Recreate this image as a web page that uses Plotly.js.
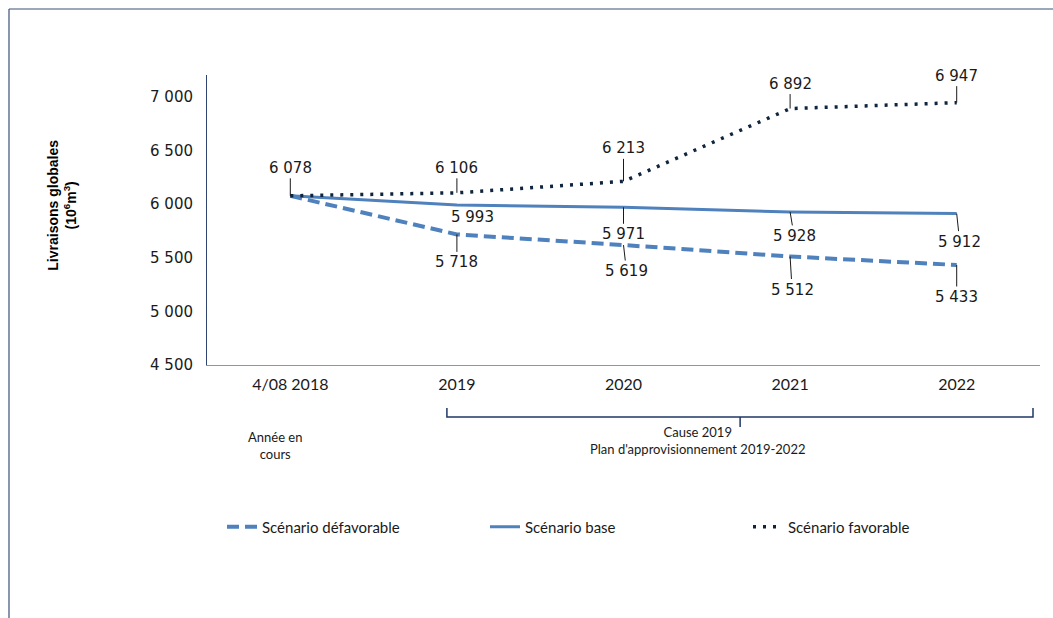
<!DOCTYPE html>
<html>
<head>
<meta charset="utf-8">
<script src="https://cdn.plot.ly/plotly-3.0.1.min.js"></script>
<style>html,body{margin:0;padding:0;background:#fff;}#chart{width:1053px;height:618px;}</style>
</head>
<body>
<div id="chart"></div>
<script>
// ---- Data ----
const categories = ['4/08 2018', '2019', '2020', '2021', '2022'];
const defavorable = [6078, 5718, 5619, 5512, 5433];
const base = [6078, 5993, 5971, 5928, 5912];
const favorable = [6078, 6106, 6213, 6892, 6947];
const seriesNames = ['Scénario défavorable', 'Scénario base', 'Scénario favorable'];
const yTickVals = [4500, 5000, 5500, 6000, 6500, 7000];
const yTitle = '<b>Livraisons globales<br>(10<sup>6</sup>m<sup>3</sup>)</b>';
const noteLeft = 'Année en<br>cours';
const noteRight = 'Cause 2019<br>Plan d\'approvisionnement 2019-2022';

// ---- Label offsets (style, px) ----
const offFav = [[0, -28], [0, -25], [0, -33], [0, -25], [0, -27]];
const offBase = [null, [16, 12], [0, 27], [4, 24], [3, 28]];
const offDef = [null, [0, 28], [3, 26], [2, 33], [0, 32]];

function fmt(v) { return String(v).replace(/\B(?=(\d{3})+(?!\d))/g, ' '); }

const blue = '#4f81bd';
const navy = '#0f243e';
const labelFont = { family: 'DejaVu Sans, Verdana, sans-serif', size: 15, color: '#1a1a1a' };

const traces = [
  { x: categories, y: defavorable, name: seriesNames[0], type: 'scatter', mode: 'lines',
    line: { color: blue, width: 4, dash: '12px,6px' } },
  { x: categories, y: base, name: seriesNames[1], type: 'scatter', mode: 'lines',
    line: { color: blue, width: 3 } },
  { x: categories, y: favorable, name: seriesNames[2], type: 'scatter', mode: 'lines',
    line: { color: navy, width: 3.5, dash: '3px,7px' } }
];

const annotations = [];
function addLabels(vals, offs) {
  vals.forEach((v, i) => {
    const o = offs[i];
    if (!o) return;
    const lead = Math.abs(o[1]) > 20;
    annotations.push({
      x: i, y: v, xref: 'x', yref: 'y', text: fmt(v),
      showarrow: lead, arrowhead: 0, arrowwidth: 1, arrowcolor: '#1a1a1a',
      ax: o[0], ay: o[1], standoff: 0,
      xshift: lead ? 0 : o[0], yshift: lead ? 0 : -o[1],
      font: labelFont
    });
  });
}
addLabels(favorable, offFav);
addLabels(base, offBase);
addLabels(defavorable, offDef);

annotations.push({
  xref: 'paper', yref: 'paper', x: -0.175, y: 0.55, text: yTitle, textangle: -90,
  showarrow: false, font: { family: 'Liberation Sans Narrow, Liberation Sans, Arial, sans-serif', size: 14, color: '#000' },
  xanchor: 'center', yanchor: 'middle'
});
annotations.push({
  xref: 'paper', yref: 'paper', x: 0.0816, y: -0.279, text: noteLeft, showarrow: false,
  font: { family: 'Lato, sans-serif', size: 13, color: '#1a1a1a' }, xanchor: 'center', yanchor: 'middle'
});
annotations.push({
  xref: 'paper', yref: 'paper', x: 0.589, y: -0.262, text: noteRight, showarrow: false,
  font: { family: 'Lato, sans-serif', size: 13, color: '#1a1a1a' }, xanchor: 'center', yanchor: 'middle'
});

const shapes = [
  // bracket
  { type: 'path', xref: 'paper', yref: 'paper',
    path: 'M0.288,-0.148 L0.288,-0.179 L0.9916,-0.179 L0.9916,-0.148',
    line: { color: '#1f3864', width: 1.5 } },
  { type: 'line', xref: 'paper', yref: 'paper', x0: 0.640, x1: 0.640, y0: -0.179, y1: -0.214,
    line: { color: '#1f3864', width: 1.5 } },
  // outer frame (top and left)
  { type: 'line', xref: 'paper', yref: 'paper', x0: -0.2377, x1: 1.02, y0: 1.2276, y1: 1.2276,
    line: { color: '#3b5078', width: 1.2 } },
  { type: 'line', xref: 'paper', yref: 'paper', x0: -0.2377, x1: -0.2377, y0: 1.2276, y1: -0.88,
    line: { color: '#3b5078', width: 1.2 } }
];

const layout = {
  width: 1053, height: 618,
  margin: { l: 207, r: 13, t: 75, b: 253 },
  paper_bgcolor: '#fff', plot_bgcolor: '#fff',
  separators: ', ',
  showlegend: true,
  legend: {
    orientation: 'h', x: 0.018, y: -0.559, xanchor: 'left', yanchor: 'middle',
    entrywidth: 218, entrywidthmode: 'pixels',
    font: { family: 'Lato, sans-serif', size: 15, color: '#1a1a1a' },
    bgcolor: 'rgba(0,0,0,0)'
  },
  xaxis: {
    type: 'category', range: [-0.5, 4.5], showgrid: false, zeroline: false,
    showline: true, linecolor: '#8a97ab', linewidth: 1, ticks: '', ticklabelstandoff: 5,
    tickfont: { family: 'Lato, sans-serif', size: 16, color: '#1a1a1a' }, fixedrange: true
  },
  yaxis: {
    range: [4500, 7205], tickvals: yTickVals, tickformat: ',d', showgrid: false, zeroline: false,
    showline: true, linecolor: '#2f4470', linewidth: 1, ticks: '', ticklabelstandoff: 10,
    tickfont: { family: 'DejaVu Sans, Verdana, sans-serif', size: 15, color: '#1a1a1a' }, fixedrange: true
  },
  annotations: annotations,
  shapes: shapes
};

Plotly.newPlot('chart', traces, layout, { displayModeBar: false, staticPlot: true });
</script>
</body>
</html>
